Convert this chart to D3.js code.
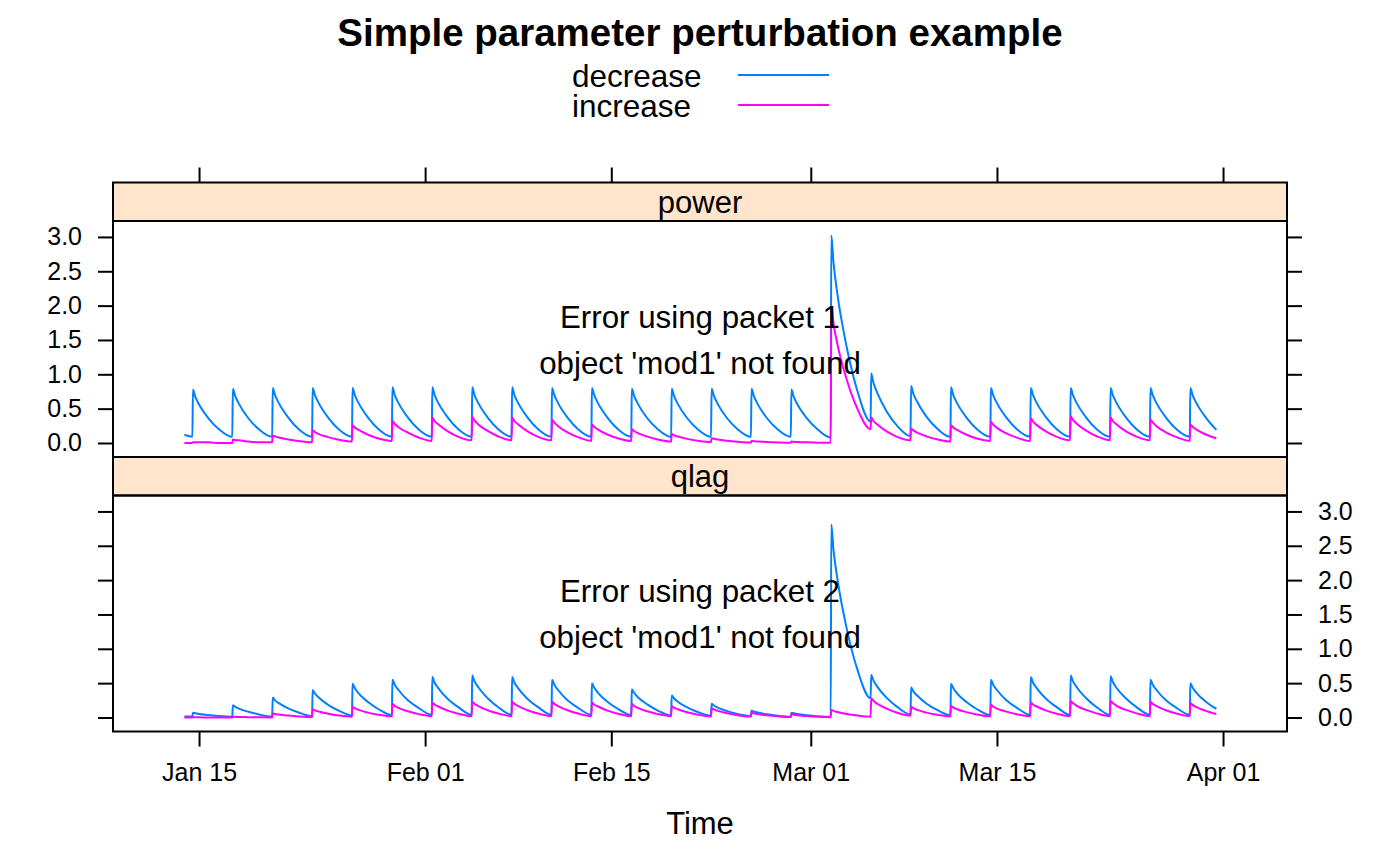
<!DOCTYPE html>
<html>
<head>
<meta charset="utf-8">
<script src="https://cdn.jsdelivr.net/npm/d3@7"></script>
<style>
  body { margin: 0; background: #fff; }
  svg { display: block; font-family: "Liberation Sans", Arial, Helvetica, sans-serif; }
</style>
</head>
<body>
<div id="chart"></div>
<script>
// ---- data ----
const seriesNames = ["decrease", "increase"];
const panelNames = ["power", "qlag"];
const seriesColors = ["#0080ff", "#ff00ff"];

// one rise every 3 days, first one at Jan 14 12:00 (UTC)
const pulseStart = "2000-01-14T12:00:00Z";
const pulseEveryHours = 72;
const pulseCount = 26;
// sample hours inside each pulse: trough before rise, peak, then the decay
const sampleHours = [0, 1, 5, 12, 29, 48];
const leadHours = -14.4; // first sample before the first rise

// value at the lead sample, one per series: power dec, power inc, qlag dec, qlag inc
const leadValues = [0.12, 0.0, 0.015, 0.0];

// each row: [trough, peak, +5h, +12h, +29h, +48h]
const powerDecrease = [
  [0.09, 0.78, 0.68, 0.56, 0.36, 0.20], [0.09, 0.79, 0.69, 0.57, 0.36, 0.20], [0.09, 0.80, 0.70, 0.58, 0.37, 0.20],
  [0.09, 0.80, 0.70, 0.58, 0.37, 0.20], [0.09, 0.80, 0.70, 0.58, 0.37, 0.20], [0.09, 0.81, 0.70, 0.58, 0.37, 0.20],
  [0.09, 0.81, 0.70, 0.58, 0.37, 0.20], [0.09, 0.81, 0.70, 0.58, 0.37, 0.20], [0.09, 0.81, 0.70, 0.58, 0.37, 0.20],
  [0.09, 0.80, 0.70, 0.58, 0.37, 0.20], [0.09, 0.80, 0.70, 0.58, 0.37, 0.20], [0.09, 0.79, 0.69, 0.57, 0.36, 0.20],
  [0.09, 0.79, 0.69, 0.57, 0.36, 0.20], [0.09, 0.79, 0.69, 0.57, 0.36, 0.20], [0.09, 0.79, 0.69, 0.57, 0.36, 0.20],
  [0.09, 0.78, 0.68, 0.56, 0.36, 0.20], [0.08, 3.02, 2.63, 2.17, 1.39, 0.76], [0.31, 1.01, 0.88, 0.73, 0.46, 0.25],
  [0.10, 0.83, 0.72, 0.60, 0.38, 0.21], [0.09, 0.81, 0.70, 0.58, 0.37, 0.20], [0.09, 0.80, 0.70, 0.58, 0.37, 0.20],
  [0.09, 0.80, 0.70, 0.58, 0.37, 0.20], [0.09, 0.80, 0.70, 0.58, 0.37, 0.20], [0.09, 0.80, 0.70, 0.58, 0.37, 0.20],
  [0.09, 0.80, 0.70, 0.58, 0.37, 0.20], [0.09, 0.80, 0.70, 0.58, 0.37, 0.19]
];
const powerIncrease = [
  [0.00, 0.01, 0.01, 0.01, 0.01, 0.00], [0.00, 0.05, 0.044, 0.04, 0.02, 0.01], [0.01, 0.11, 0.096, 0.08, 0.05, 0.03],
  [0.01, 0.185, 0.16, 0.13, 0.085, 0.046], [0.02, 0.26, 0.226, 0.19, 0.12, 0.065], [0.03, 0.32, 0.28, 0.23, 0.15, 0.08],
  [0.03, 0.37, 0.32, 0.27, 0.17, 0.09], [0.04, 0.38, 0.33, 0.27, 0.175, 0.095], [0.04, 0.37, 0.32, 0.27, 0.17, 0.09],
  [0.04, 0.34, 0.30, 0.245, 0.156, 0.085], [0.03, 0.27, 0.235, 0.195, 0.124, 0.068], [0.03, 0.20, 0.174, 0.144, 0.092, 0.05],
  [0.02, 0.13, 0.113, 0.094, 0.06, 0.033], [0.013, 0.07, 0.061, 0.05, 0.032, 0.018], [0.007, 0.03, 0.026, 0.022, 0.014, 0.008],
  [0.003, 0.02, 0.017, 0.014, 0.009, 0.005], [0.002, 2.00, 1.74, 1.44, 0.92, 0.50], [0.20, 0.37, 0.32, 0.27, 0.17, 0.09],
  [0.04, 0.21, 0.183, 0.15, 0.097, 0.053], [0.02, 0.26, 0.226, 0.19, 0.12, 0.065], [0.03, 0.31, 0.27, 0.22, 0.14, 0.078],
  [0.03, 0.36, 0.313, 0.26, 0.166, 0.09], [0.04, 0.39, 0.34, 0.28, 0.18, 0.098], [0.04, 0.37, 0.32, 0.27, 0.17, 0.093],
  [0.04, 0.34, 0.30, 0.245, 0.156, 0.085], [0.03, 0.27, 0.235, 0.195, 0.124, 0.068]
];
const qlagDecrease = [
  [0.015, 0.07, 0.061, 0.05, 0.035, 0.02], [0.01, 0.18, 0.157, 0.13, 0.083, 0.045], [0.015, 0.29, 0.25, 0.21, 0.133, 0.073],
  [0.02, 0.40, 0.35, 0.29, 0.184, 0.10], [0.03, 0.49, 0.43, 0.35, 0.225, 0.12], [0.035, 0.55, 0.48, 0.40, 0.25, 0.14],
  [0.04, 0.59, 0.51, 0.425, 0.27, 0.15], [0.04, 0.61, 0.53, 0.44, 0.28, 0.15], [0.04, 0.59, 0.51, 0.425, 0.27, 0.15],
  [0.04, 0.55, 0.48, 0.40, 0.25, 0.14], [0.04, 0.50, 0.435, 0.36, 0.23, 0.125], [0.035, 0.41, 0.36, 0.295, 0.19, 0.10],
  [0.03, 0.32, 0.28, 0.23, 0.147, 0.08], [0.025, 0.20, 0.174, 0.144, 0.092, 0.05], [0.02, 0.10, 0.087, 0.072, 0.046, 0.025],
  [0.012, 0.07, 0.061, 0.05, 0.032, 0.018], [0.01, 2.81, 2.44, 2.02, 1.29, 0.70], [0.28, 0.62, 0.54, 0.45, 0.285, 0.155],
  [0.045, 0.44, 0.38, 0.32, 0.20, 0.11], [0.035, 0.49, 0.43, 0.35, 0.225, 0.12], [0.035, 0.55, 0.48, 0.40, 0.25, 0.14],
  [0.04, 0.59, 0.51, 0.425, 0.27, 0.15], [0.04, 0.61, 0.53, 0.44, 0.28, 0.15], [0.04, 0.60, 0.52, 0.43, 0.276, 0.15],
  [0.04, 0.55, 0.48, 0.40, 0.25, 0.14], [0.04, 0.50, 0.435, 0.36, 0.23, 0.125]
];
const qlagIncrease = [
  [0.0, 0.002, 0.002, 0.002, 0.001, 0.001], [0.0, 0.01, 0.009, 0.007, 0.005, 0.003], [0.001, 0.06, 0.052, 0.043, 0.028, 0.015],
  [0.006, 0.12, 0.104, 0.086, 0.055, 0.03], [0.012, 0.155, 0.135, 0.11, 0.071, 0.039], [0.015, 0.195, 0.17, 0.14, 0.09, 0.049],
  [0.02, 0.22, 0.19, 0.16, 0.10, 0.055], [0.02, 0.23, 0.20, 0.165, 0.106, 0.058], [0.02, 0.23, 0.20, 0.165, 0.106, 0.058],
  [0.02, 0.23, 0.20, 0.165, 0.106, 0.058], [0.02, 0.22, 0.19, 0.16, 0.10, 0.055], [0.02, 0.195, 0.17, 0.14, 0.09, 0.049],
  [0.02, 0.165, 0.144, 0.12, 0.076, 0.041], [0.016, 0.135, 0.117, 0.097, 0.062, 0.034], [0.013, 0.07, 0.061, 0.05, 0.032, 0.018],
  [0.007, 0.045, 0.039, 0.032, 0.021, 0.011], [0.005, 0.11, 0.096, 0.08, 0.05, 0.028], [0.011, 0.28, 0.244, 0.20, 0.13, 0.07],
  [0.028, 0.155, 0.135, 0.11, 0.071, 0.039], [0.016, 0.17, 0.148, 0.12, 0.078, 0.043], [0.017, 0.185, 0.16, 0.13, 0.085, 0.046],
  [0.018, 0.22, 0.19, 0.16, 0.10, 0.055], [0.02, 0.24, 0.21, 0.17, 0.11, 0.06], [0.02, 0.24, 0.21, 0.17, 0.11, 0.06],
  [0.02, 0.23, 0.20, 0.165, 0.106, 0.058], [0.02, 0.21, 0.183, 0.15, 0.097, 0.052]
];

const xTicks = ["2000-01-15", "2000-02-01", "2000-02-15", "2000-03-01", "2000-03-15", "2000-04-01"];
const yTicks = [0, 0.5, 1, 1.5, 2, 2.5, 3];
const errorLines = [
  ["Error using packet 1", "object 'mod1' not found"],
  ["Error using packet 2", "object 'mod1' not found"]
];

// ---- layout ----
const width = 1400, height = 866;
const left = 113, right = 1287;
const stripH = 38.5, panelH = 236;
const top0 = 182.5;
const tick = 15;
const baseFont = 31;

const svg = d3.select("#chart").append("svg")
  .attr("width", width).attr("height", height);

const x = d3.scaleUtc()
  .domain([new Date("2000-01-08T12:43:00Z"), new Date("2000-04-05T19:26:00Z")])
  .range([left, right]);

// shared time grid
const t0 = new Date(pulseStart).getTime();
const hour = 3600e3;
const times = [new Date(t0 + leadHours * hour)];
for (let k = 0; k < pulseCount; k++) {
  sampleHours.forEach(h => times.push(new Date(t0 + (k * pulseEveryHours + h) * hour)));
}
function toSeries(lead, rows) {
  const vals = [lead].concat(rows.flat());
  return vals.map((v, i) => ({ t: times[i], v }));
}
const panelData = [
  [toSeries(leadValues[0], powerDecrease), toSeries(leadValues[1], powerIncrease)],
  [toSeries(leadValues[2], qlagDecrease), toSeries(leadValues[3], qlagIncrease)]
];

// title
svg.append("text")
  .attr("x", 700).attr("y", 46)
  .attr("text-anchor", "middle")
  .attr("font-weight", "bold")
  .attr("font-size", 38.5)
  .text("Simple parameter perturbation example");

// legend: the two labels sit tight, so one text block with a tspan per line
const legend = svg.append("g");
const legendText = legend.append("text")
  .attr("x", 572).attr("y", 86.5)
  .attr("font-size", 31.5);
seriesNames.forEach((name, i) => {
  legendText.append("tspan")
    .attr("x", 572).attr("dy", i === 0 ? 0 : 30)
    .text(name);
  legend.append("line")
    .attr("x1", 738).attr("x2", 829)
    .attr("y1", 75 + i * 30).attr("y2", 75 + i * 30)
    .attr("stroke", seriesColors[i]).attr("stroke-width", 2);
});

const fmt = d3.format(".1f");

panelNames.forEach((pname, p) => {
  const stripTop = top0 + p * (stripH + panelH);
  const pTop = stripTop + stripH;
  const pBot = pTop + panelH;

  const y = d3.scaleLinear().domain([-0.204, 3.232]).range([pBot, pTop]);

  const g = svg.append("g");

  // strip
  g.append("rect")
    .attr("x", left).attr("y", stripTop)
    .attr("width", right - left).attr("height", stripH)
    .attr("fill", "#ffe5cc").attr("stroke", "#000").attr("stroke-width", 2);
  g.append("text")
    .attr("x", 700).attr("y", stripTop + 30)
    .attr("text-anchor", "middle")
    .attr("font-size", baseFont)
    .text(pname);

  // lines
  const line = d3.line()
    .x(d => x(d.t))
    .y(d => y(d.v))
    .curve(d3.curveMonotoneX);
  panelData[p].forEach((s, i) => {
    g.append("path")
      .datum(s)
      .attr("d", line)
      .attr("fill", "none")
      .attr("stroke", seriesColors[i])
      .attr("stroke-width", 2);
  });

  // y axes, labels alternate sides
  const yl = g.append("g").attr("transform", `translate(${left},0)`)
    .call(d3.axisLeft(y).tickValues(yTicks).tickSize(tick).tickPadding(16)
      .tickFormat(p === 0 ? fmt : ""));
  const yr = g.append("g").attr("transform", `translate(${right},0)`)
    .call(d3.axisRight(y).tickValues(yTicks).tickSize(tick).tickPadding(16)
      .tickFormat(p === 1 ? fmt : ""));
  [yl, yr].forEach(a => {
    a.select(".domain").remove();
    a.selectAll("line").attr("stroke-width", 2);
    a.selectAll("text").attr("font-size", 25).attr("fill", "#000")
      .attr("font-family", "Liberation Sans, Arial, sans-serif");
  });

  // panel frame
  g.append("rect")
    .attr("x", left).attr("y", pTop)
    .attr("width", right - left).attr("height", panelH)
    .attr("fill", "none").attr("stroke", "#000").attr("stroke-width", 2);

  // error message
  errorLines[p].forEach((txt, j) => {
    g.append("text")
      .attr("x", 700).attr("y", pTop + 106.5 + j * 46)
      .attr("text-anchor", "middle")
      .attr("font-size", 31.3)
      .text(txt);
  });

  if (p === 0) {
    const xt = g.append("g").attr("transform", `translate(0,${stripTop})`)
      .call(d3.axisTop(x).tickValues(xTicks.map(d => new Date(d + "T00:00:00Z")))
        .tickSize(tick).tickFormat(""));
    xt.select(".domain").remove();
    xt.selectAll("line").attr("stroke-width", 2);
  } else {
    const xb = g.append("g").attr("transform", `translate(0,${pBot})`)
      .call(d3.axisBottom(x).tickValues(xTicks.map(d => new Date(d + "T00:00:00Z")))
        .tickSize(tick).tickPadding(17).tickFormat(d3.utcFormat("%b %d")));
    xb.select(".domain").remove();
    xb.selectAll("line").attr("stroke-width", 2);
    xb.selectAll("text").attr("font-size", 25).attr("fill", "#000")
      .attr("font-family", "Liberation Sans, Arial, sans-serif");
  }
});

// x axis title
svg.append("text")
  .attr("x", 700).attr("y", 834)
  .attr("text-anchor", "middle")
  .attr("font-size", baseFont)
  .text("Time");
</script>
</body>
</html>
